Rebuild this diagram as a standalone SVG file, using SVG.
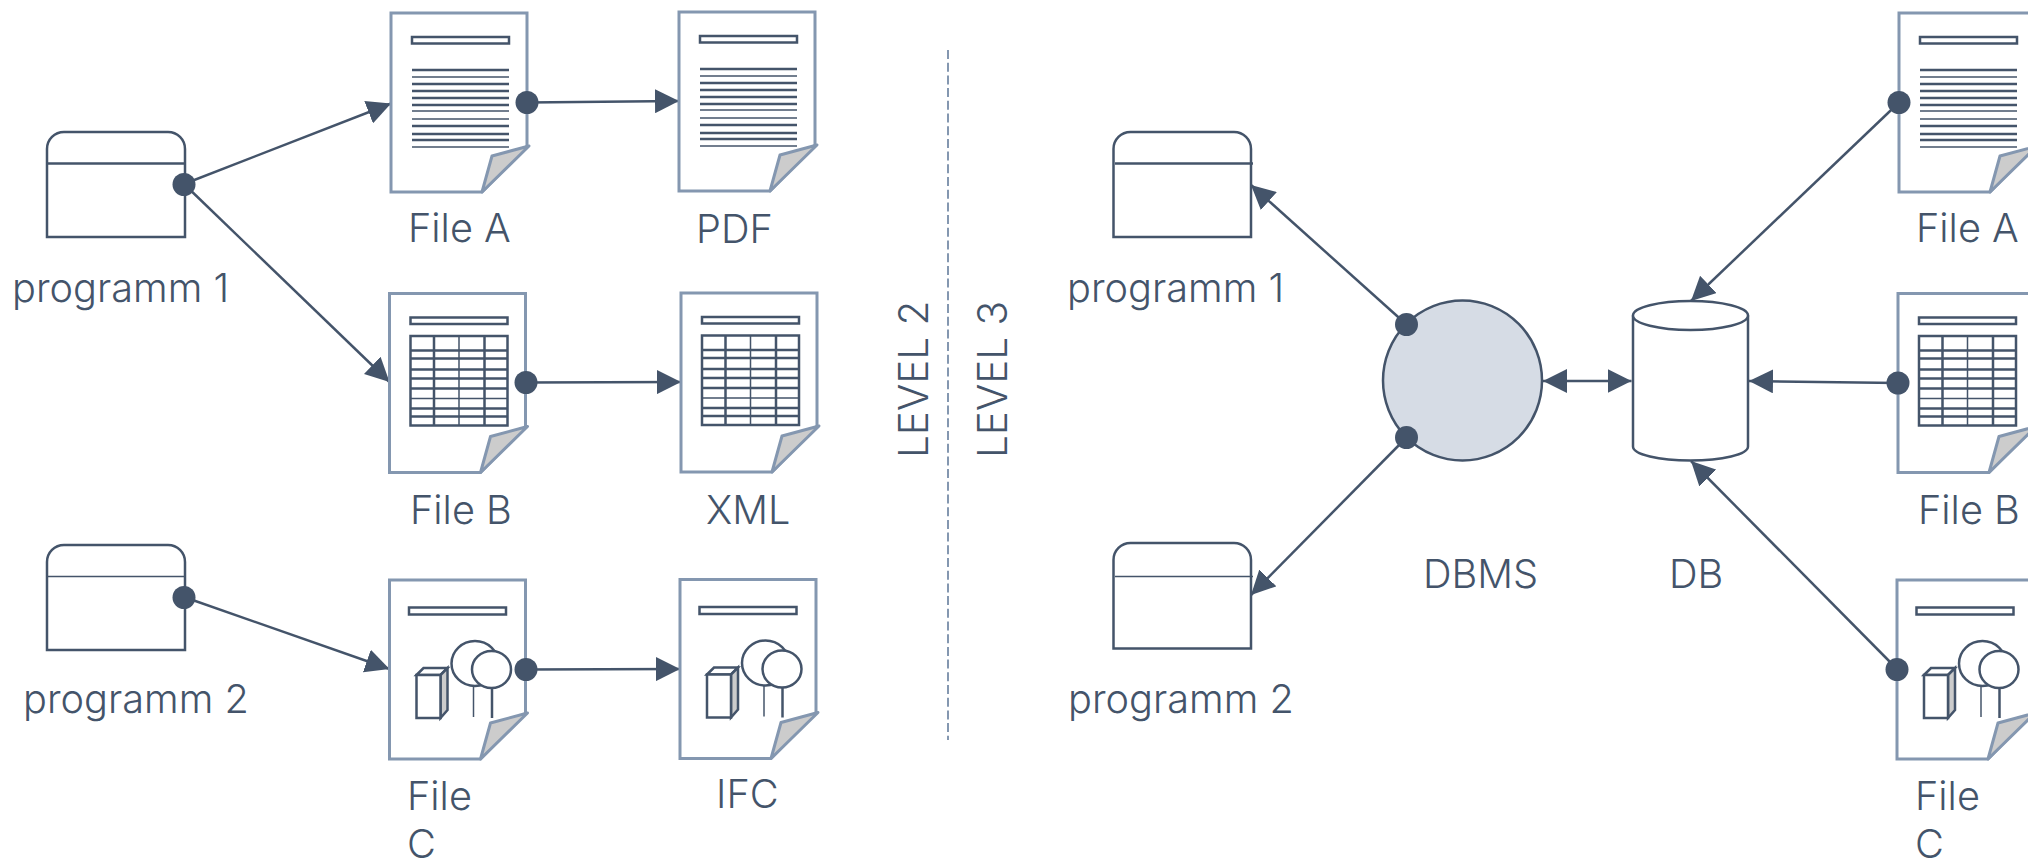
<svg xmlns="http://www.w3.org/2000/svg" width="2028" height="862" viewBox="0 0 2028 862">
<style>
text{font-family:Inter,Roboto,"Liberation Sans",sans-serif;font-weight:300;font-size:39.7px;fill:#44546a}
.lvl{font-size:40.5px}
.page{fill:#fff;stroke:#8497b0;stroke-width:3}
.fold{fill:#ccc;stroke:#8497b0;stroke-width:3;stroke-linejoin:round}
.ink{fill:#fff;stroke:#44546a;stroke-width:2.5}
.thick{stroke:#44546a;stroke-width:2.5;fill:none}
.thin{stroke:#44546a;stroke-width:1.5;fill:none}
.box{fill:#fff;stroke:#44546a;stroke-width:2.5}
.conn{stroke:#44546a;stroke-width:2.5;fill:none}
.dot{fill:#44546a}
.grey{fill:#ccc;stroke:#44546a;stroke-width:2.5}
</style>
<defs>
<marker id="ah" viewBox="0 0 24 24" refX="24" refY="12" markerWidth="24" markerHeight="24" markerUnits="userSpaceOnUse" orient="auto-start-reverse"><path d="M0,0L24,12L0,24Z" fill="#44546a"/></marker>
<g id="sheet">
<path class="page" d="M0,0H136V133L91,179H0Z"/>
<path class="fold" d="M91,179L101,143L138,133Z"/>
</g>
<rect id="title" class="ink" x="21" y="24" width="97" height="6.5"/>
<g id="textlines">
<path class="thick" d="M21,57H118M21,71H118M21,78H118M21,85H118M21,92H118M21,113H118M21,121H118M21,127H118"/>
<path class="thin" d="M21,64H118M21,98H118M21,106H118M21,134H118"/>
</g>
<g id="table">
<rect class="ink" x="21" y="42.5" width="97" height="89.5"/>
<path class="thick" d="M21,57H118M21,65H118M21,76H118M21,85H118M21,95H118M21,115H118M21,123H118M44.5,42.5V132M95,42.5V132"/>
<path class="thin" d="M21,105H118M69.5,42.5V132"/>
</g>
<g id="scene">
<rect class="ink" x="19.5" y="27.5" width="97" height="7"/>
<ellipse class="ink" cx="85.5" cy="83.5" rx="23.5" ry="22.5"/>
<ellipse class="ink" cx="102" cy="89.5" rx="19.5" ry="18.5"/>
<path class="thin" d="M84,106V137"/>
<path class="thick" d="M102.5,108V138"/>
<path class="ink" d="M27,95L34,88H58L51,95Z"/>
<path class="grey" d="M58,88V130L51,138V95Z"/>
<rect class="ink" x="27" y="95" width="24" height="43"/>
</g>
</defs>

<g id="connectors">
<path class="conn" marker-end="url(#ah)" d="M184,184L391,103.5"/>
<path class="conn" marker-end="url(#ah)" d="M184,184L389.5,382"/>
<path class="conn" marker-end="url(#ah)" d="M184,597L389.5,669"/>
<path class="conn" marker-end="url(#ah)" d="M527,102.5L679,101"/>
<path class="conn" marker-end="url(#ah)" d="M526,382.5L681,382"/>
<path class="conn" marker-end="url(#ah)" d="M526,669.5L680,669"/>
<path class="conn" marker-end="url(#ah)" d="M1406.5,324.5L1251,185"/>
<path class="conn" marker-end="url(#ah)" d="M1406.5,437.5L1251,595"/>
<path class="conn" marker-start="url(#ah)" marker-end="url(#ah)" d="M1543,381H1631.5"/>
<path class="conn" marker-end="url(#ah)" d="M1899,102.5L1691,301"/>
<path class="conn" marker-end="url(#ah)" d="M1898,383L1749,381"/>
<path class="conn" marker-end="url(#ah)" d="M1897,669L1691,461"/>
</g>

<g id="divider"><path d="M948,50V740" stroke="#8497b0" stroke-width="2" stroke-dasharray="9 3.7" fill="none"/></g>
<g id="level-2"><text class="lvl" transform="translate(928,458) rotate(-90)">LEVEL 2</text></g>
<g id="level-3"><text class="lvl" transform="translate(1006.5,458) rotate(-90)">LEVEL 3</text></g>

<g id="prog1-left"><path class="box" d="M47,237V149a17,17 0 0 1 17,-17H168a17,17 0 0 1 17,17V237Z"/><path class="thick" d="M47,163.5H185"/><text x="12" y="302">programm 1</text></g>
<g id="prog2-left"><path class="box" d="M47,650V562a17,17 0 0 1 17,-17H168a17,17 0 0 1 17,17V650Z"/><path class="thin" d="M47,576.5H185"/><text x="23" y="713">programm 2</text></g>

<g id="fileA-left"><use href="#sheet" x="391" y="13"/><use href="#title" x="391" y="13"/><use href="#textlines" x="391" y="13"/><text x="408" y="242">File A</text></g>
<g id="fileB-left"><use href="#sheet" x="389.5" y="293.5"/><use href="#title" x="389.5" y="293.5"/><use href="#table" x="389.5" y="293.5"/><text x="410" y="524">File B</text></g>
<g id="fileC-left"><use href="#sheet" x="389.5" y="580"/><use href="#scene" x="389.5" y="580"/><text x="407" y="810">File</text><text x="407" y="858">C</text></g>
<g id="pdf"><use href="#sheet" x="679" y="12"/><use href="#title" x="679" y="12"/><use href="#textlines" x="679" y="12"/><text x="696" y="243">PDF</text></g>
<g id="xml"><use href="#sheet" x="681" y="293"/><use href="#title" x="681" y="293"/><use href="#table" x="681" y="293"/><text x="706" y="524">XML</text></g>
<g id="ifc"><use href="#sheet" x="680" y="579.5"/><use href="#scene" x="680" y="579.5"/><text x="716" y="808">IFC</text></g>

<g id="prog1-right"><path class="box" d="M1113.5,237V149a17,17 0 0 1 17,-17H1234a17,17 0 0 1 17,17V237Z"/><path class="thick" d="M1115,163.5H1253"/><text x="1067" y="302">programm 1</text></g>
<g id="prog2-right"><path class="box" d="M1113.5,648.5V560a17,17 0 0 1 17,-17H1234a17,17 0 0 1 17,17V648.5Z"/><path class="thin" d="M1115,576.5H1253"/><text x="1068" y="713">programm 2</text></g>

<g id="dbms"><ellipse cx="1462.5" cy="380.5" rx="79.5" ry="80" fill="#d6dce5" stroke="#44546a" stroke-width="2.5"/><text x="1423" y="588">DBMS</text></g>
<g id="db"><path class="box" d="M1633,315.5V446.5C1633,454.5 1659,460.5 1690.5,460.5S1748,454.5 1748,446.5V315.5"/><ellipse class="box" cx="1690.5" cy="315.5" rx="57.5" ry="14.5"/><text x="1669" y="588">DB</text></g>

<g id="fileA-right"><use href="#sheet" x="1899" y="13"/><use href="#title" x="1899" y="13"/><use href="#textlines" x="1899" y="13"/><text x="1916" y="242">File A</text></g>
<g id="fileB-right"><use href="#sheet" x="1898" y="293.5"/><use href="#title" x="1898" y="293.5"/><use href="#table" x="1898" y="293.5"/><text x="1918" y="524">File B</text></g>
<g id="fileC-right"><use href="#sheet" x="1897" y="580"/><use href="#scene" x="1897" y="580"/><text x="1915" y="810">File</text><text x="1915" y="858">C</text></g>

<g id="ports">
<circle class="dot" cx="184" cy="184.5" r="11.5"/>
<circle class="dot" cx="184" cy="597.5" r="11.5"/>
<circle class="dot" cx="527" cy="102.5" r="11.5"/>
<circle class="dot" cx="526" cy="382.5" r="11.5"/>
<circle class="dot" cx="526" cy="669.5" r="11.5"/>
<circle class="dot" cx="1406.5" cy="324.5" r="11.5"/>
<circle class="dot" cx="1406.5" cy="437.5" r="11.5"/>
<circle class="dot" cx="1899" cy="102.5" r="11.5"/>
<circle class="dot" cx="1898" cy="383" r="11.5"/>
<circle class="dot" cx="1897" cy="669.5" r="11.5"/>
</g>
</svg>
